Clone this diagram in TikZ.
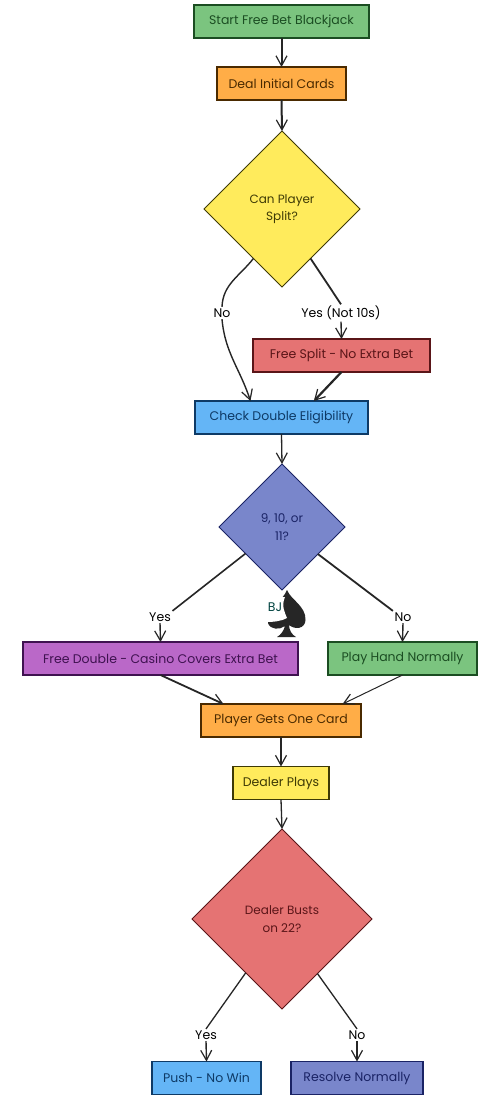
\documentclass[tikz,border=0pt]{standalone}
\usepackage{fontspec}
\setmainfont{Poppins}
\usetikzlibrary{shapes.geometric,arrows.meta,calc}
\definecolor{gfill}{HTML}{7BC47F}\definecolor{gdark}{HTML}{1B4D22}
\definecolor{ofill}{HTML}{FFAD47}\definecolor{odark}{HTML}{4A2A00}
\definecolor{yfill}{HTML}{FFEB5C}\definecolor{ydark}{HTML}{3E3A05}
\definecolor{rfill}{HTML}{E57373}\definecolor{rdark}{HTML}{5A1518}
\definecolor{bfill}{HTML}{64B5F6}\definecolor{bdark}{HTML}{0E3A66}
\definecolor{ifill}{HTML}{7986CB}\definecolor{idark}{HTML}{1A2365}
\definecolor{pfill}{HTML}{BA68C8}\definecolor{pdark}{HTML}{3F1250}
\tikzset{
  boxnode/.style n args={3}{rectangle,draw=#2,fill=#1,text=#2,line width=1.2pt,
    minimum width=#3,minimum height=33pt,inner sep=0pt,outer sep=0pt,font=\fontsize{12.5}{14}\selectfont},
  decnode/.style n args={3}{diamond,draw=#2,fill=#1,text=#2,line width=1pt,
    minimum width=#3,minimum height=#3,inner sep=0pt,outer sep=0pt,align=center,font=\fontsize{12}{17.5}\selectfont},
  lab/.style={fill=white,text=black,inner sep=1.5pt,font=\fontsize{12.5}{14}\selectfont},
  link/.style={draw=black!85,line width=#1},
  link/.default=1.4pt,
  conn/.style={link=#1,-{Straight Barb[length=10pt,width=11pt,line width=1.2pt]}},
  conn/.default=1.4pt,
}
\begin{document}
\begin{tikzpicture}[x=1pt,y=-1pt]
\useasboundingbox[fill=white] (0,0) rectangle (500,1100);
% nodes
\node[boxnode={gfill}{gdark}{175pt}] (start) at (281.5,21.5) {Start Free Bet Blackjack};
\node[boxnode={ofill}{odark}{129pt}] (deal) at (281.5,83.5) {Deal Initial Cards};
\node[decnode={yfill}{ydark}{156pt}] (d1) at (282,209) {Can Player\\Split?};
\node[boxnode={rfill}{rdark}{177pt}] (split) at (341.5,355.5) {Free Split - No Extra Bet};
\node[boxnode={bfill}{bdark}{173pt}] (check) at (281.5,417.5) {Check Double Eligibility};
\node[decnode={ifill}{idark}{126pt}] (d2) at (282,527) {9, 10, or\\11?};
\node[boxnode={pfill}{pdark}{275pt}] (double) at (160.5,658.5) {Free Double - Casino Covers Extra Bet};
\node[boxnode={gfill}{gdark}{149pt}] (play) at (402.5,658.5) {Play Hand Normally};
\node[boxnode={ofill}{odark}{160pt}] (player) at (281,720.5) {Player Gets One Card};
\node[boxnode={yfill}{ydark}{96pt}] (dealer) at (281,783) {Dealer Plays};
\node[decnode={rfill}{rdark}{180pt}] (d3) at (282,919) {Dealer Busts\\on 22?};
\node[boxnode={bfill}{bdark}{109pt}] (push) at (206.5,1078) {Push - No Win};
\node[boxnode={ifill}{idark}{132pt}] (resolve) at (357,1078) {Resolve Normally};
% labels
\node[lab] (lno1) at (222,313) {No};
\node[lab] (lyes1) at (341,313) {Yes (Not 10s)};
\node[lab] (lyes2) at (160,617) {Yes};
\node[lab] (lno2) at (403,617) {No};
\node[lab] (lyes3) at (206,1035) {Yes};
\node[lab] (lno3) at (357,1035) {No};
% connectors
\draw[conn=2pt] (start.south) -- (deal.north);
\draw[conn=2pt] (deal.south) -- (d1.north);
\draw[link] (d1.240) to[out=232,in=88] (lno1.north);
\draw[conn] (lno1.south) to[out=-85,in=108] (check.152.4);
\draw[link=1.8pt] (d1.300) -- (lyes1.north);
\draw[conn] (lyes1.south) -- (split.north);
\draw[conn=2.2pt] (split.south) -- (check.27.6);
\draw[conn=1.3pt] (check.south) -- (d2.north);
\draw[link=1.6pt] (d2.216.9) -- (lyes2.north east);
\draw[conn] (lyes2.south) -- (double.north);
\draw[link=1.8pt] (d2.323.1) -- (lno2.north west);
\draw[conn] (lno2.south) -- (play.north);
\draw[conn=1.8pt] (double.south) -- (player.164.9);
\draw[conn=1pt] (play.south) -- (player.15.1);
\draw[conn=1.8pt] (player.south) -- (dealer.north);
\draw[conn=1.3pt] (dealer.south) -- (d3.north);
\draw[link=1.3pt] (d3.236.8) -- (lyes3.north);
\draw[conn] (lyes3.south) -- (push.north);
\draw[link=1.3pt] (d3.303.2) -- (lno3.north);
\draw[conn] (lno3.south) -- (resolve.north);
% spade logo
\fill[black!85] (287,590) .. controls (291,600) and (306,606) .. (305.5,620)
  .. controls (305,629) and (295,630) .. (289,625)
  .. controls (289,630) and (292,635) .. (296,637) -- (277,637)
  .. controls (281,635) and (284,630) .. (285,626)
  .. controls (280,630) and (270,630) .. (268,623)
  .. controls (268,610) and (283,600) .. (287,590) -- cycle;
\fill[white] (266,597) -- (285,597) .. controls (281,606) and (285,613) .. (287,618)
  .. controls (282,621) and (274,622) .. (266,622) -- cycle;
\node[text=green!35!black!75!blue,font=\fontsize{12.5}{13}\selectfont,inner sep=0pt] (logo) at (275,607) {BJ};
\end{tikzpicture}
\end{document}
